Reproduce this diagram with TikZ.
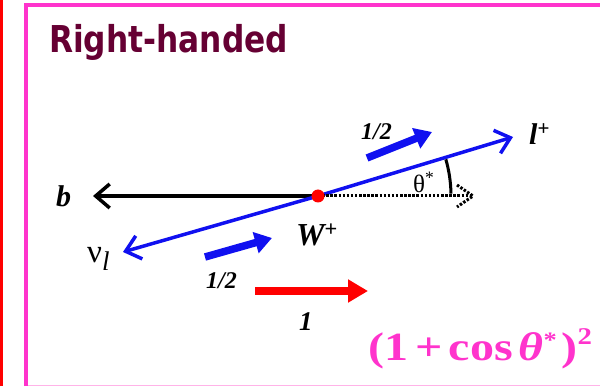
\documentclass[tikz,border=0pt]{standalone}
\usepackage{fontspec}
\setmainfont{Liberation Serif}
\newfontfamily\titlefont{DejaVu Sans}
\usetikzlibrary{arrows.meta,positioning}
\definecolor{framepink}{HTML}{FF33CC}
\definecolor{softpink}{HTML}{FFB3E8}
\definecolor{maroon}{HTML}{660033}
\definecolor{spinblue}{HTML}{1010F0}
\definecolor{spinred}{HTML}{FF0000}

\begin{document}
\begin{tikzpicture}[x=1pt,y=1pt,
    lbl/.style={inner sep=0pt,anchor=base west},
    italbl/.style={lbl,font=\fontsize{30}{32}\selectfont\bfseries\itshape},
    halflbl/.style={lbl,font=\fontsize{24}{26}\selectfont\bfseries\itshape},
    thin/.style={line width=3.5pt,-{Straight Barb[length=14pt,width=24pt]}},
    spin/.style={line width=7.5pt,spinblue,-{Triangle[length=17pt,width=21pt]}},
    wdot/.style={circle,fill=spinred,inner sep=0pt,minimum size=13pt}
  ]
    \useasboundingbox (0,0) rectangle (600,386);
    % page edge and frame
    \draw[spinred,line width=3pt] (1.5,0) -- (1.5,386);
    \draw[framepink,line width=4pt] (26,0) -- (26,381) -- (610,381);
    \draw[softpink,line width=1pt] (28,1) -- (610,1);
    \node[lbl,font=\titlefont\fontsize{37}{40}\selectfont\bfseries,text=maroon]
      (title) at (49,333) {\scalebox{0.845}[1]{Right-handed}};

    \coordinate (w) at (318,190);
    \coordinate (btip) at (93,190);
    \coordinate (ltip) at (513,249);
    \coordinate (nutip) at (123,134);
    \coordinate (dotend) at (473,190);
    \draw[thin,black] (w) -- (btip);
    \draw[thin,spinblue] (w) -- (ltip);
    \draw[thin,spinblue] (w) -- (nutip);
    % dotted direction of the W, with a dotted head
    \draw[line width=3pt,dash pattern=on 2.5pt off 1.6pt] (w) -- (dotend);
    \draw[line width=3pt,dash pattern=on 2.5pt off 1.6pt] ([shift={(-16,11)}]dotend) -- (dotend) -- ([shift={(-16,-11)}]dotend);
    \draw[line width=3pt] (w) ++(1:133) arc[start angle=1,end angle=16,radius=133];
    \node[wdot] (wpt) at (w) {};

    \node[italbl] (b) at (56,179) {b};
    \node[italbl] (lep) at (529,241) {l\textsuperscript{\upshape+}};
    \node[lbl,font=\fontsize{33}{34}\selectfont] (nu) at (87,123)
      {ν\raisebox{-7pt}{\fontsize{27}{28}\selectfont\itshape l}};
    \node[lbl,font=\fontsize{32}{34}\selectfont\bfseries\itshape] (wlbl) at (296,140) {W\textsuperscript{\upshape+}};
    \node[lbl,font=\fontsize{25}{26}\selectfont] (theta) at (413,193) {θ\textsuperscript{*}};

    % spin arrows
    \coordinate (sup1) at (367,228);
    \coordinate (sup2) at (432,254);
    \coordinate (slo1) at (205,129);
    \coordinate (slo2) at (272,148);
    \draw[spin] (sup1) -- (sup2);
    \draw[spin] (slo1) -- (slo2);
    \node[halflbl] (hup) at (361,246) {1/2};
    \node[halflbl] (hlo) at (206,98) {1/2};
    \coordinate (r1) at (255,95);
    \coordinate (r2) at (368,95);
    \draw[line width=8pt,spinred,-{Triangle[length=20pt,width=22pt]}] (r1) -- (r2);
    \node[lbl,font=\fontsize{27}{28}\selectfont\bfseries\itshape] (one) at (299,56) {1};

    \node[lbl,font=\fontsize{40}{42}\selectfont\bfseries,text=framepink]
      (rate) at (368,26) {\scalebox{1.2}[1]{(1\hspace{6pt}+\hspace{5pt}cos\hspace{5pt}\textit{θ}\raisebox{13pt}{\fontsize{22}{22}\selectfont *}\hspace{4pt})\raisebox{16pt}{\fontsize{24}{24}\selectfont 2}}};
  \end{tikzpicture}
\end{document}
